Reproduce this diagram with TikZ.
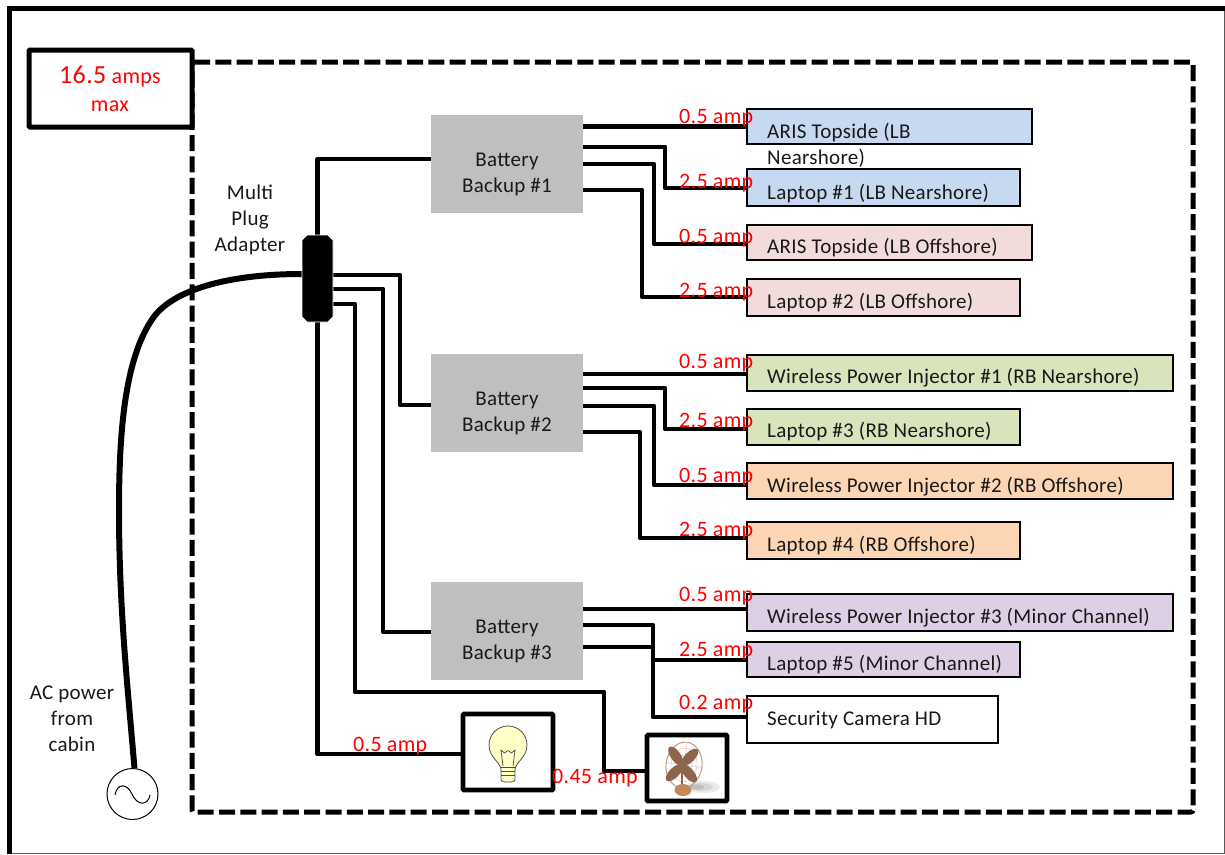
\documentclass[tikz,border=0pt]{standalone}
\usepackage{fontspec}
\setmainfont[LetterSpace=1.4]{Carlito}
\definecolor{bluebox}{HTML}{C6D9F1}
\definecolor{pinkbox}{HTML}{F2DCDB}
\definecolor{greenbox}{HTML}{D8E4BC}
\definecolor{orangebox}{HTML}{FCD5B5}
\definecolor{purplebox}{HTML}{DDD0E6}
\definecolor{battgray}{HTML}{BFBFBF}
\definecolor{bulbfill}{HTML}{FFFFC8}
\definecolor{fanbrown}{HTML}{8E654C}
\definecolor{fanwire}{HTML}{B98F78}
\definecolor{fanbase}{HTML}{C58758}
\tikzset{
  x=1pt,y=-1pt,
  wire/.style={line width=4.2pt,line join=round,draw=black},
  cord/.style={line width=6pt,draw=black},
  blocklabel/.style={anchor=base,font=\fontsize{21}{26}\selectfont,align=center,text=black!90,inner sep=0pt},
  devtext/.style={anchor=base west,font=\fontsize{21}{24}\selectfont,text=black!90,inner sep=0pt},
  amp/.style={anchor=base west,font=\fontsize{22}{24}\selectfont,text=red,inner sep=0pt},
  devbox/.style={draw=black,line width=1.8pt,inner sep=0pt,outer sep=0pt},
  battery/.style={fill=battgray,inner sep=0pt,outer sep=0pt},
  loadbox/.style={draw=black,fill=white,line width=4.6pt,rounded corners=1pt,inner sep=0pt,outer sep=0pt},
}
\newcommand{\rectnode}[6]{\node[#6,minimum width={(#4-#2)*1pt},minimum height={(#5-#3)*1pt}] (#1) at ({(#2+#4)/2},{(#3+#5)/2}) {};}
\begin{document}
\begin{tikzpicture}
\useasboundingbox (0,0) rectangle (1225,854);
\fill[white] (0,0) rectangle (1225,854);
% outer frame
\draw[line width=1pt,draw=black!65] (1224.5,8) -- (1224.5,853.5) -- (9,853.5);
\draw[line width=5pt] (9,854) -- (9,8) -- (1225,8);
% dashed limit
\draw[line width=5pt,dash pattern=on 16pt off 5.3pt,rounded corners=2pt] (192,62) -- (1193,62) -- (1193,812) -- (192,812) -- cycle;
% nodes
\rectnode{limit}{29}{50}{192}{127}{draw=black,fill=white,line width=5pt,rounded corners=1pt,inner sep=0pt,outer sep=0pt}
\rectnode{bb1}{431}{115}{583}{213}{battery}
\rectnode{bb2}{431}{354}{583}{452}{battery}
\rectnode{bb3}{431}{582}{583}{680}{battery}
\node[inner sep=0pt,outer sep=0pt,minimum width=31pt,minimum height=87pt] (plug) at (317.5,278.5) {};
\node[circle,draw=black,line width=1pt,minimum size=51pt,inner sep=0pt,outer sep=0pt] (ac) at (132.5,794) {};
\rectnode{bulb}{463}{714}{553}{790}{loadbox}
\rectnode{fan}{647}{735}{727}{801}{loadbox}
% mains wires
\draw[cord] (ac.north) ++(2,0) .. controls (128,690) and (119,610) .. (119,510) .. controls (119,430) and (125,358) .. (153,318) .. controls (172,291) and (225,274) .. (plug.west |- 0,274);
\draw[wire] (plug.north) |- (bb1.west |- 0,159);
\draw[wire] (plug.east |- 0,275) -| (400,405) -- (bb2.west |- 0,405);
\draw[wire] (plug.east |- 0,289) -| (383,632) -- (bb3.west |- 0,632);
\draw[wire] (plug.east |- 0,304) -| (355,692) -| (604,771) -- (fan.west |- 0,771);
\draw[wire] (plug.south) |- (bulb.west |- 0,754);
% plug body with chamfered corners
\draw[fill=black,draw=white,line width=.8pt] (307,235) -- (328,235) -- (333,240) -- (333,317) -- (328,322) -- (307,322) -- (302,317) -- (302,240) -- cycle;
% device boxes
\rectnode{d1}{747}{109}{1032}{144}{devbox,fill=bluebox}
\rectnode{d2}{747}{169}{1020}{206}{devbox,fill=bluebox}
\rectnode{d3}{747}{225}{1032}{260}{devbox,fill=pinkbox}
\rectnode{d4}{747}{279}{1020}{316}{devbox,fill=pinkbox}
\rectnode{d5}{747}{355}{1173}{391}{devbox,fill=greenbox}
\rectnode{d6}{747}{409}{1020}{445}{devbox,fill=greenbox}
\rectnode{d7}{747}{463}{1173}{499}{devbox,fill=orangebox}
\rectnode{d8}{747}{522}{1020}{559}{devbox,fill=orangebox}
\rectnode{d9}{747}{594}{1173}{631}{devbox,fill=purplebox}
\rectnode{d10}{747}{642}{1020}{677}{devbox,fill=purplebox}
\rectnode{d11}{747}{696}{998}{743}{devbox,fill=white}
% battery outputs
\draw[wire] (bb1.east |- 0,126.5) -- (d1.west |- 0,126.5);
\draw[wire] (bb1.east |- 0,147) -| (665,188) -- (d2.west |- 0,188);
\draw[wire] (bb1.east |- 0,164) -| (654,244) -- (d3.west |- 0,244);
\draw[wire] (bb1.east |- 0,190) -| (642,297) -- (d4.west |- 0,297);
\draw[wire] (bb2.east |- 0,374) -- (d5.west |- 0,374);
\draw[wire] (bb2.east |- 0,388) -| (665,429) -- (d6.west |- 0,429);
\draw[wire] (bb2.east |- 0,406) -| (654,485) -- (d7.west |- 0,485);
\draw[wire] (bb2.east |- 0,432) -| (640,538) -- (d8.west |- 0,538);
\draw[wire] (bb3.east |- 0,609) -- (d9.west |- 0,609);
\draw[wire] (bb3.east |- 0,625) -| (653,660) -- (d10.west |- 0,660);
\draw[wire] (bb3.east |- 0,647) -| (653,717) -- (d11.west |- 0,717);
% AC symbol
\draw[line width=1pt] (115,795) .. controls (117,783) and (127,783) .. (132,794) .. controls (137,806) and (148,806) .. (150,795);
% bulb icon
\draw[fill=bulbfill,draw=black!70,line width=.8pt] (501,770) .. controls (501,762) and (489,758) .. (489,745) .. controls (489,734.5) and (497.5,726) .. (508,726) .. controls (518.5,726) and (527,734.5) .. (527,745) .. controls (527,758) and (515,762) .. (515,770) -- (515,779) .. controls (515,782) and (512,782) .. (508,782) .. controls (504,782) and (501,782) .. (501,779) -- cycle;
\draw[draw=black!70,line width=.7pt] (503,766) -- (501,750) -- (504.5,753) -- (508,750.5) -- (511.5,753) -- (515,750) -- (513,766);
\draw[draw=black!70,line width=.7pt] (501,767) -- (515,767) (501,771) -- (515,771) (501,775) -- (515,775);
% fan icon
\fill[black!8] (703,787) ellipse (17 and 6);
\fill[black!16] (701,787) ellipse (12 and 4);
\fill[black!26] (697,787) ellipse (7 and 2.5);
\begin{scope}[shift={(684,765)},rotate=-8]
\draw[fanwire,line width=.9pt] (0,0) ellipse (18 and 23);
\draw[fanwire!60,line width=.4pt] (0,0) ellipse (13 and 17) (0,0) ellipse (8 and 10);
\draw[fanwire!60,line width=.4pt] (-18,0) -- (18,0) (0,-23) -- (0,23) (-12,-17) -- (12,17) (12,-17) -- (-12,17);
\end{scope}
\begin{scope}[shift={(682,765)}]
\foreach \a in {45,125,225,310}{\fill[fanbrown,rotate=\a] (11,0) ellipse (11 and 5);}
\end{scope}
\draw[fanbrown,line width=2pt] (682,770) -- (682,785);
\fill[fanbase] (683,790) ellipse (8.5 and 6);
% texts
\node[anchor=base,font=\fontsize{22}{24}\selectfont,text=red,inner sep=0pt] (limtext) at (110,83) {{\fontsize{26}{24}\selectfont 16.5} amps};
\node[anchor=base,font=\fontsize{22}{24}\selectfont,text=red,inner sep=0pt] (limtextb) at (110,111) {max};
\node[blocklabel] (t1) at (250,199) {Multi}; \node[blocklabel] (t1b) at (250,225) {Plug}; \node[blocklabel] (t1c) at (250,251) {Adapter};
\node[blocklabel] (t2) at (72,699) {AC power}; \node[blocklabel] (t2b) at (72,725) {from}; \node[blocklabel] (t2c) at (72,751) {cabin};
\node[blocklabel] (b1a) at (507,166) {Battery}; \node[blocklabel] (b1b) at (507,192) {Backup \#1};
\node[blocklabel] (b2a) at (507,405) {Battery}; \node[blocklabel] (b2b) at (507,431) {Backup \#2};
\node[blocklabel] (b3a) at (507,633) {Battery}; \node[blocklabel] (b3b) at (507,659) {Backup \#3};
\node[devtext] (x1) at (767,138) {ARIS Topside (LB};
\node[devtext] (x1b) at (767,164) {Nearshore)};
\node[devtext] (x2) at (767,199) {Laptop \#1 (LB Nearshore)};
\node[devtext] (x3) at (767,253) {ARIS Topside (LB Offshore)};
\node[devtext] (x4) at (767,308) {Laptop \#2 (LB Offshore)};
\node[devtext] (x5) at (767,383) {Wireless Power Injector \#1 (RB Nearshore)};
\node[devtext] (x6) at (767,437) {Laptop \#3 (RB Nearshore)};
\node[devtext] (x7) at (767,492) {Wireless Power Injector \#2 (RB Offshore)};
\node[devtext] (x8) at (767,551) {Laptop \#4 (RB Offshore)};
\node[devtext] (x9) at (767,623) {Wireless Power Injector \#3 (Minor Channel)};
\node[devtext] (x10) at (767,670) {Laptop \#5 (Minor Channel)};
\node[devtext] (x11) at (767,725) {Security Camera HD};
\foreach \n/\y/\t in {a1/123/0.5,a2/188/2.5,a3/243/0.5,a4/297/2.5,a5/368/0.5,a6/427/2.5,a7/482/0.5,a8/536/2.5,a9/601/0.5,a10/656/2.5,a11/709/0.2}{
  \node[amp] (\n) at (679,\y) {\t{} amp};
}
\node[amp] (a12) at (353,751) {0.5 amp};
\node[amp] (a13) at (552,783) {0.45 amp};
\end{tikzpicture}
\end{document}
